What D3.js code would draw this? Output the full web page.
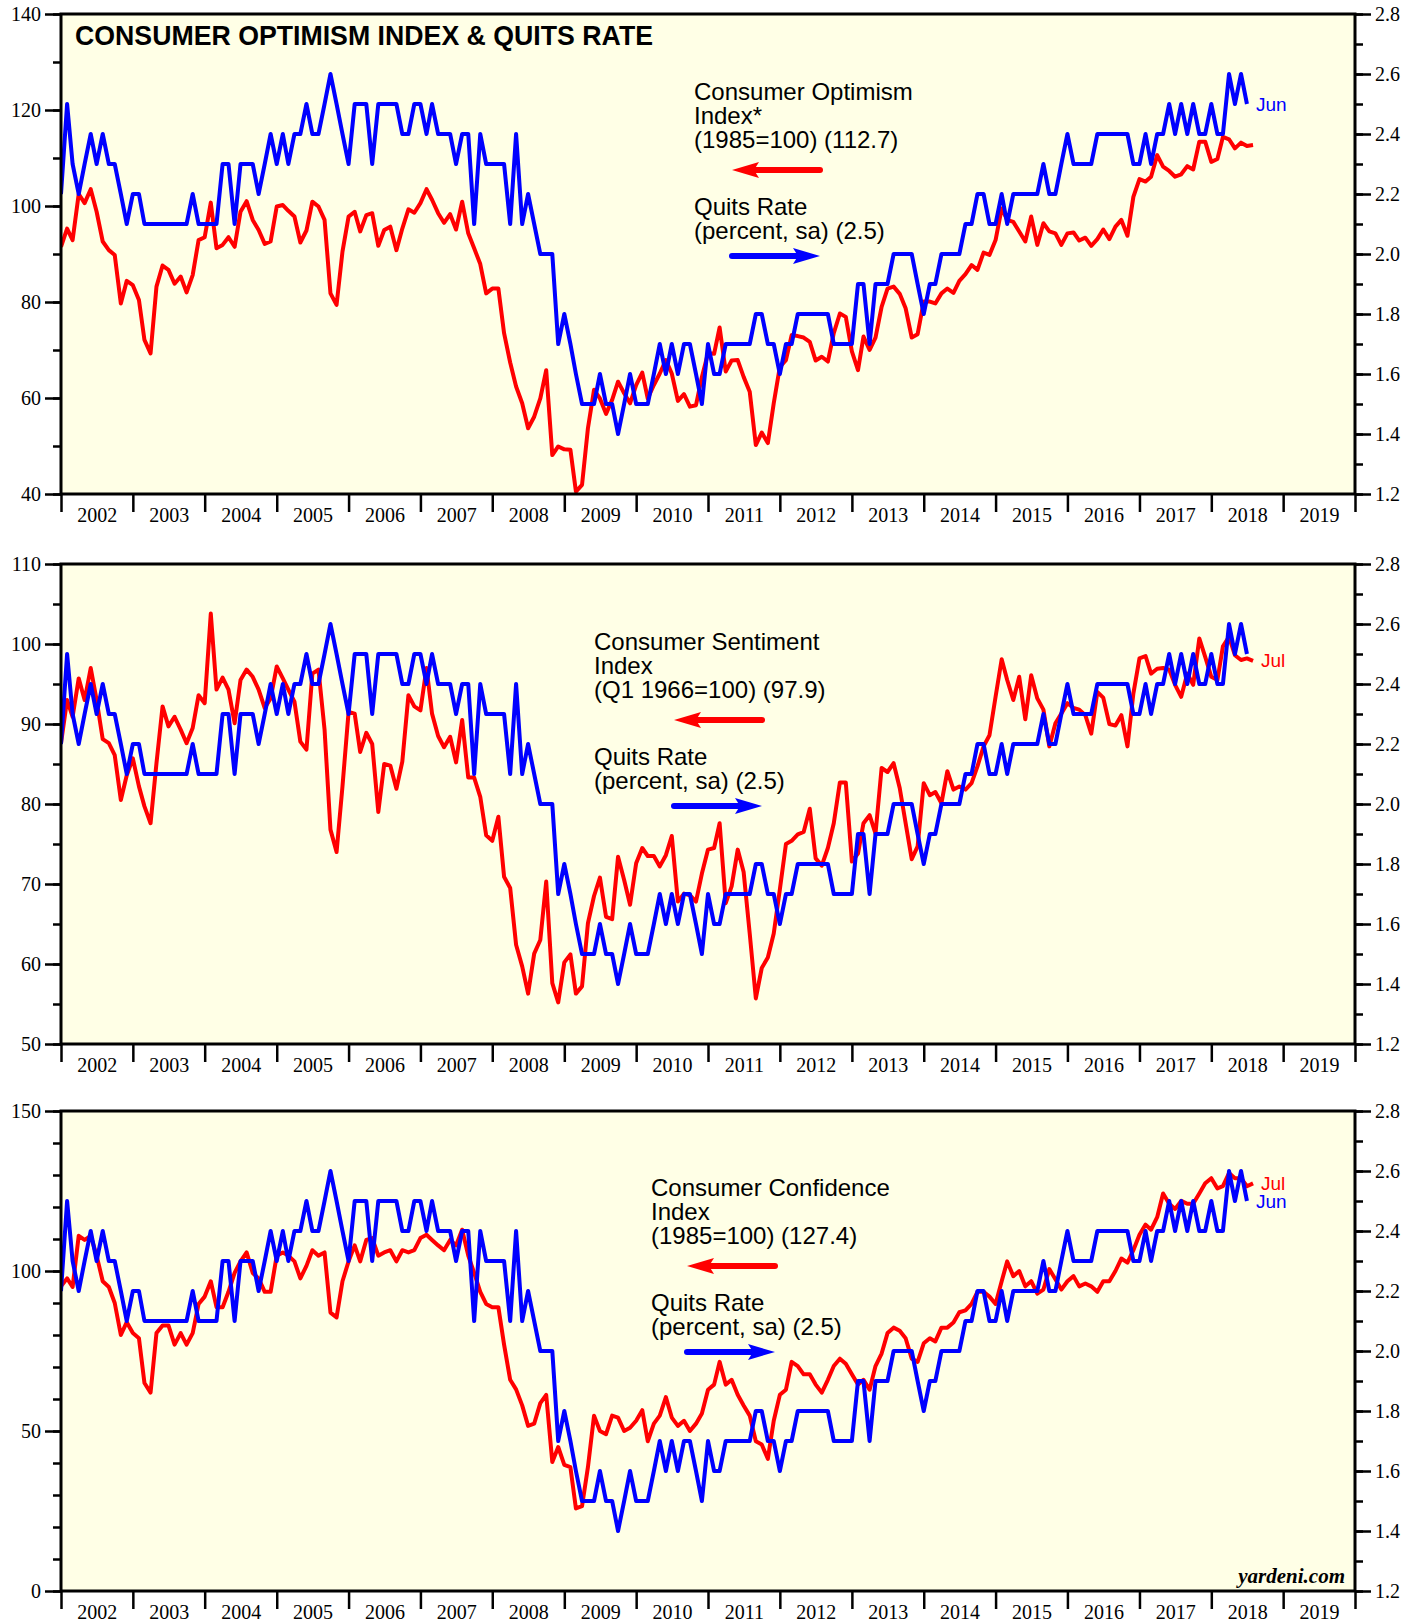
<!DOCTYPE html>
<html>
<head>
<meta charset="utf-8">
<script src="https://cdn.jsdelivr.net/npm/d3@7"></script>
<style>
  body { margin: 0; background: #fff; }
  svg { display: block; }
</style>
</head>
<body>
<script>
// monthly values, first value = Dec 2001, plotted at month end
var firstMonth = new Date(2001, 11, 1);

var quitsRate = [
  2.2, 2.5, 2.3, 2.2, 2.3, 2.4, 2.3, 2.4, 2.3, 2.3, 2.2, 2.1,
  2.2, 2.2, 2.1, 2.1, 2.1, 2.1, 2.1, 2.1, 2.1, 2.1, 2.2, 2.1,
  2.1, 2.1, 2.1, 2.3, 2.3, 2.1, 2.3, 2.3, 2.3, 2.2, 2.3, 2.4,
  2.3, 2.4, 2.3, 2.4, 2.4, 2.5, 2.4, 2.4, 2.5, 2.6, 2.5, 2.4,
  2.3, 2.5, 2.5, 2.5, 2.3, 2.5, 2.5, 2.5, 2.5, 2.4, 2.4, 2.5,
  2.5, 2.4, 2.5, 2.4, 2.4, 2.4, 2.3, 2.4, 2.4, 2.1, 2.4, 2.3,
  2.3, 2.3, 2.3, 2.1, 2.4, 2.1, 2.2, 2.1, 2.0, 2.0, 2.0, 1.7,
  1.8, 1.7, 1.6, 1.5, 1.5, 1.5, 1.6, 1.5, 1.5, 1.4, 1.5, 1.6,
  1.5, 1.5, 1.5, 1.6, 1.7, 1.6, 1.7, 1.6, 1.7, 1.7, 1.6, 1.5,
  1.7, 1.6, 1.6, 1.7, 1.7, 1.7, 1.7, 1.7, 1.8, 1.8, 1.7, 1.7,
  1.6, 1.7, 1.7, 1.8, 1.8, 1.8, 1.8, 1.8, 1.8, 1.7, 1.7, 1.7,
  1.7, 1.9, 1.9, 1.7, 1.9, 1.9, 1.9, 2.0, 2.0, 2.0, 2.0, 1.9,
  1.8, 1.9, 1.9, 2.0, 2.0, 2.0, 2.0, 2.1, 2.1, 2.2, 2.2, 2.1,
  2.1, 2.2, 2.1, 2.2, 2.2, 2.2, 2.2, 2.2, 2.3, 2.2, 2.2, 2.3,
  2.4, 2.3, 2.3, 2.3, 2.3, 2.4, 2.4, 2.4, 2.4, 2.4, 2.4, 2.3,
  2.3, 2.4, 2.3, 2.4, 2.4, 2.5, 2.4, 2.5, 2.4, 2.5, 2.4, 2.4,
  2.5, 2.4, 2.4, 2.6, 2.5, 2.6, 2.5
];

var optimismIndex = [
  91.5, 95.3, 92.9, 102.5, 100.6, 103.5, 98.8, 92.6, 90.8, 89.8, 79.7, 84.4,
  83.5, 80.4, 72.1, 69.3, 83.2, 87.6, 86.7, 83.8, 85.3, 82.0, 85.6, 92.9,
  93.5, 100.7, 91.2, 91.9, 93.5, 91.5, 98.8, 101.0, 97.1, 95.0, 92.1, 92.6,
  99.9, 100.2, 99.0, 97.8, 92.4, 94.9, 100.9, 99.9, 97.1, 81.8, 79.4, 90.5,
  97.8, 98.8, 94.7, 98.1, 98.5, 91.7, 95.0, 95.7, 90.8, 95.3, 99.3, 98.6,
  100.6, 103.5, 101.3, 98.5, 96.5, 98.3, 95.1, 100.9, 94.3, 91.2, 87.9, 81.8,
  82.8, 82.8, 73.5, 67.4, 62.4, 58.9, 53.7, 56.1, 59.9, 65.8, 48.1, 49.9,
  49.3, 49.2, 40.5, 41.9, 53.7, 61.7, 59.9, 56.7, 59.6, 63.4, 61.0, 58.9,
  62.7, 65.3, 59.9, 62.7, 65.1, 67.9, 65.1, 59.4, 60.8, 58.2, 58.5, 64.4,
  69.3, 69.2, 74.7, 65.5, 67.8, 67.9, 64.4, 61.3, 50.2, 52.8, 50.6, 58.9,
  66.5, 67.9, 73.1, 72.9, 72.6, 71.7, 67.8, 68.6, 67.6, 73.5, 77.6, 76.9,
  69.7, 65.8, 72.8, 70.0, 72.6, 79.0, 82.8, 83.2, 81.7, 78.7, 72.6, 73.3,
  80.1, 80.1, 79.7, 81.8, 82.8, 81.9, 84.4, 85.8, 87.7, 86.7, 90.3, 89.8,
  92.9, 99.5, 97.1, 96.7, 94.7, 92.6, 97.8, 91.9, 96.4, 94.7, 94.3, 91.9,
  94.3, 94.5, 92.8, 93.4, 91.7, 93.1, 95.1, 93.1, 95.7, 97.1, 93.8, 101.9,
  105.6, 105.1, 106.1, 110.6, 108.2, 107.3, 106.1, 106.6, 108.3, 107.6, 113.4, 113.4,
  109.2, 109.8, 114.4, 113.9, 112.0, 113.2, 112.5, 112.7
];

var sentimentIndex = [
  87.6, 93.0, 90.9, 95.7, 93.0, 97.0, 93.0, 88.1, 87.6, 86.1, 80.5, 83.6,
  85.7, 82.2, 79.7, 77.6, 85.1, 92.2, 89.7, 90.9, 89.3, 87.6, 89.5, 93.6,
  92.6, 103.8, 94.3, 95.8, 94.3, 90.1, 95.5, 96.8, 95.9, 94.3, 92.0, 93.2,
  97.2, 95.7, 94.3, 92.8, 87.8, 86.8, 96.3, 96.8, 89.3, 76.8, 74.0, 82.2,
  91.5, 91.3, 86.5, 88.9, 87.5, 79.0, 85.0, 84.8, 81.9, 85.3, 93.6, 92.2,
  91.7, 97.0, 91.3, 88.5, 87.1, 88.4, 85.2, 90.5, 83.3, 83.3, 80.9, 76.1,
  75.4, 78.4, 70.9, 69.5, 62.4, 59.7, 56.3, 61.3, 63.0, 70.3, 57.6, 55.2,
  60.2, 61.2, 56.3, 57.2, 65.1, 68.5, 70.8, 65.9, 65.6, 73.4, 70.5, 67.4,
  72.6, 74.5, 73.5, 73.5, 72.2, 73.6, 76.0, 67.8, 68.8, 68.6, 67.8, 71.3,
  74.3, 74.5, 77.6, 67.6, 69.7, 74.3, 71.5, 63.8, 55.7, 59.5, 60.8, 63.8,
  69.3, 75.0, 75.4, 76.2, 76.5, 79.4, 73.2, 72.3, 74.5, 77.6, 82.7, 82.7,
  72.8, 73.8, 77.6, 78.6, 76.3, 84.5, 84.0, 85.1, 82.0, 77.6, 73.1, 74.7,
  82.6, 81.1, 81.5, 80.1, 84.1, 81.8, 82.2, 81.8, 82.6, 84.7, 87.2, 88.6,
  93.4, 98.1, 95.5, 93.0, 95.9, 90.6, 96.1, 93.2, 91.8, 87.2, 90.1, 91.3,
  92.6, 92.0, 91.8, 91.1, 88.8, 94.0, 93.3, 90.0, 89.8, 91.1, 87.2, 93.8,
  98.2, 98.5, 96.3, 96.9, 97.0, 96.8, 94.9, 93.4, 96.3, 94.9, 100.7, 98.4,
  95.9, 95.5, 99.7, 100.9, 98.6, 98.0, 98.2, 97.9
];

var confidenceIndex = [
  95.2, 97.7, 95.0, 111.0, 109.7, 111.0, 104.8, 96.8, 95.0, 90.0, 80.0, 84.0,
  80.6, 79.0, 65.0, 62.0, 80.6, 83.0, 83.0, 77.0, 80.6, 77.0, 80.6, 89.7,
  92.0, 96.8, 88.7, 88.7, 93.5, 99.4, 103.0, 105.8, 99.4, 97.7, 93.5, 93.5,
  104.8, 105.8, 104.8, 103.0, 97.7, 101.6, 106.5, 104.8, 105.8, 87.0, 85.5, 96.8,
  103.0, 108.0, 103.0, 109.7, 110.3, 104.8, 105.8, 106.5, 103.0, 106.5, 105.8, 106.5,
  110.3, 111.3, 109.7, 108.0, 106.5, 109.7, 108.0, 112.9, 104.8, 99.4, 93.5, 89.7,
  88.7, 88.7, 77.0, 66.0, 63.0, 58.0, 51.6, 52.3, 58.7, 61.3, 40.3, 45.0,
  39.4, 38.7, 25.8, 26.5, 38.7, 54.8, 50.0, 49.0, 54.8, 54.2, 50.0, 51.0,
  53.2, 56.5, 46.8, 52.3, 54.8, 60.6, 54.2, 51.6, 53.2, 50.0, 52.3, 55.5,
  62.9, 64.5, 71.6, 64.5, 66.0, 61.3, 58.0, 54.8, 46.8, 45.8, 41.3, 53.2,
  61.3, 62.9, 71.6, 70.3, 67.7, 67.7, 64.5, 62.0, 66.0, 70.3, 72.6, 71.0,
  67.7, 64.5, 66.0, 62.9, 70.3, 74.2, 80.6, 82.3, 81.3, 79.0, 72.6, 71.6,
  77.4, 79.0, 78.0, 82.3, 82.3, 83.9, 87.1, 87.7, 89.7, 93.5, 93.5, 92.0,
  89.7, 96.8, 103.0, 98.4, 100.0, 95.2, 96.8, 92.9, 94.2, 100.6, 97.4, 94.2,
  96.8, 98.4, 95.2, 96.1, 95.2, 93.5, 96.8, 96.8, 100.0, 103.9, 102.6, 106.5,
  111.3, 114.5, 112.9, 116.8, 124.2, 121.0, 119.4, 121.9, 121.0, 121.0, 124.2, 127.4,
  129.0, 125.8, 126.5, 130.6, 129.0, 129.0, 126.5, 127.4
];

var years = d3.range(2002, 2021);
var quitsTicks = d3.range(1.2, 2.81, 0.2);
var quitsMinor = d3.range(1.2, 2.81, 0.1);

var W = 1424, H = 1620;
var left = 61, right = 1355, plotH = 480;

var svg = d3.select("body").append("svg")
  .attr("width", W)
  .attr("height", H);

var x = d3.scaleTime()
  .domain([new Date(2002, 0, 1), new Date(2020, 0, 1)])
  .range([left, right]);

function monthEnd(i) { return d3.timeMonth.offset(firstMonth, i + 1); }

var panels = [
  { top: 14, red: optimismIndex, dom: [40, 140], major: d3.range(40, 141, 20), minor: d3.range(40, 141, 10),
    title: "CONSUMER OPTIMISM INDEX & QUITS RATE",
    lines: ["Consumer Optimism", "Index*", "(1985=100) (112.7)"],
    lx: 694, ly: 92, ax: 732, redLabel: false, blueLabel: true },
  { top: 564, red: sentimentIndex, dom: [50, 110], major: d3.range(50, 111, 10), minor: d3.range(50, 111, 5),
    lines: ["Consumer Sentiment", "Index", "(Q1 1966=100) (97.9)"],
    lx: 594, ly: 642, ax: 674, redLabel: true, blueLabel: false },
  { top: 1111, red: confidenceIndex, dom: [0, 150], major: d3.range(0, 151, 50), minor: d3.range(0, 151, 10),
    lines: ["Consumer Confidence", "Index", "(1985=100) (127.4)"],
    lx: 651, ly: 1188, ax: 687, redLabel: true, blueLabel: true, credit: true }
];

var sans = "'Liberation Sans', Arial, Helvetica, sans-serif";
var serif = "'Liberation Serif', 'Times New Roman', serif";

panels.forEach(function (p, k) {
  var top = p.top, bottom = top + plotH;
  var yL = d3.scaleLinear().domain(p.dom).range([bottom, top]);
  var yR = d3.scaleLinear().domain([1.2, 2.8]).range([bottom, top]);
  var g = svg.append("g");

  g.append("clipPath").attr("id", "clip" + k)
    .append("rect").attr("x", left).attr("y", top).attr("width", right - left).attr("height", plotH);

  g.append("rect")
    .attr("x", left).attr("y", top)
    .attr("width", right - left).attr("height", plotH)
    .attr("fill", "#ffffe6");

  // left axis
  var la = g.append("g").attr("transform", "translate(" + left + ",0)")
    .call(d3.axisLeft(yL).tickValues(p.minor).tickSize(8).tickFormat(""));
  var lb = g.append("g").attr("transform", "translate(" + left + ",0)")
    .call(d3.axisLeft(yL).tickValues(p.major).tickSize(16).tickPadding(4).tickFormat(d3.format("d")));
  // right axis
  var ra = g.append("g").attr("transform", "translate(" + right + ",0)")
    .call(d3.axisRight(yR).tickValues(quitsMinor).tickSize(8).tickFormat(""));
  var rb = g.append("g").attr("transform", "translate(" + right + ",0)")
    .call(d3.axisRight(yR).tickValues(quitsTicks).tickSize(16).tickPadding(4).tickFormat(d3.format(".1f")));
  // bottom year ticks
  var ba = g.append("g").attr("transform", "translate(0," + bottom + ")")
    .call(d3.axisBottom(x).tickValues(years.map(function (y) { return new Date(y, 0, 1); }))
      .tickSize(18).tickFormat(""));
  var bl = g.append("g").attr("transform", "translate(0," + bottom + ")")
    .call(d3.axisBottom(x).tickValues(years.slice(0, -1).map(function (y) { return new Date(y, 6, 2); }))
      .tickSize(0).tickPadding(14).tickFormat(d3.timeFormat("%Y")));

  [la, lb, ra, rb, ba, bl].forEach(function (a) {
    a.select(".domain").remove();
    a.selectAll("line").attr("stroke", "#000").attr("stroke-width", 2.5);
    a.selectAll("text")
      .attr("font-family", serif)
      .attr("font-size", 20).attr("fill", "#000");
  });

  var redLine = d3.line().x(function (d, i) { return x(monthEnd(i)); }).y(function (d) { return yL(d); });
  var blueLine = d3.line().x(function (d, i) { return x(monthEnd(i)); }).y(function (d) { return yR(d); });

  var lines = g.append("g").attr("clip-path", "url(#clip" + k + ")");
  lines.append("path").datum(p.red)
    .attr("d", redLine).attr("fill", "none")
    .attr("stroke", "#ff0000").attr("stroke-width", 4).attr("stroke-linejoin", "round");
  lines.append("path").datum(quitsRate)
    .attr("d", blueLine).attr("fill", "none")
    .attr("stroke", "#0000ff").attr("stroke-width", 4).attr("stroke-linejoin", "round");

  // frame
  g.append("rect")
    .attr("x", left).attr("y", top)
    .attr("width", right - left).attr("height", plotH)
    .attr("fill", "none").attr("stroke", "#000").attr("stroke-width", 3);

  if (p.title) {
    g.append("text").attr("x", 75).attr("y", 35).attr("dy", "0.36em")
      .attr("font-family", sans)
      .attr("font-weight", "bold").attr("font-size", 28)
      .attr("textLength", 578).attr("lengthAdjust", "spacingAndGlyphs")
      .text(p.title);
  }

  // legend
  var legendRows = p.lines.map(function (t, i) { return { t: t, y: p.ly + i * 24 }; })
    .concat([{ t: "Quits Rate", y: p.ly + 115 }, { t: "(percent, sa) (2.5)", y: p.ly + 139 }]);
  g.selectAll("text.leg").data(legendRows).enter().append("text")
    .attr("class", "leg")
    .attr("x", p.lx).attr("y", function (d) { return d.y; }).attr("dy", "0.35em")
    .attr("font-family", sans).attr("font-size", 24).attr("fill", "#000")
    .text(function (d) { return d.t; });

  var ay1 = p.ly + 78, ay2 = p.ly + 164, aw = 88;
  // red arrow pointing left
  g.append("line").attr("x1", p.ax + 20).attr("x2", p.ax + aw).attr("y1", ay1).attr("y2", ay1)
    .attr("stroke", "#ff0000").attr("stroke-width", 6).attr("stroke-linecap", "round");
  g.append("path")
    .attr("d", "M" + p.ax + "," + ay1 + "L" + (p.ax + 27) + "," + (ay1 - 8) + "L" + (p.ax + 22) + "," + ay1 +
      "L" + (p.ax + 27) + "," + (ay1 + 8) + "Z")
    .attr("fill", "#ff0000");
  // blue arrow pointing right
  g.append("line").attr("x1", p.ax).attr("x2", p.ax + aw - 20).attr("y1", ay2).attr("y2", ay2)
    .attr("stroke", "#0000ff").attr("stroke-width", 6).attr("stroke-linecap", "round");
  g.append("path")
    .attr("d", "M" + (p.ax + aw) + "," + ay2 + "L" + (p.ax + aw - 27) + "," + (ay2 - 8) + "L" + (p.ax + aw - 22) + "," + ay2 +
      "L" + (p.ax + aw - 27) + "," + (ay2 + 8) + "Z")
    .attr("fill", "#0000ff");

  if (p.redLabel) {
    var ri = p.red.length - 1;
    g.append("text").attr("x", x(monthEnd(ri)) + 8).attr("y", yL(p.red[ri])).attr("dy", "0.35em")
      .attr("font-family", sans).attr("font-size", 19).attr("fill", "#ff0000").text("Jul");
  }
  if (p.blueLabel) {
    var bi = quitsRate.length - 1;
    g.append("text").attr("x", x(monthEnd(bi)) + 9).attr("y", yR(quitsRate[bi])).attr("dy", "0.35em")
      .attr("font-family", sans).attr("font-size", 19).attr("fill", "#0000ff").text("Jun");
  }
  if (p.credit) {
    g.append("text").attr("x", right - 10).attr("y", bottom - 15).attr("dy", "0.35em")
      .attr("text-anchor", "end")
      .attr("font-family", serif)
      .attr("font-style", "italic").attr("font-weight", "bold").attr("font-size", 21)
      .text("yardeni.com");
  }
});
</script>
</body>
</html>
